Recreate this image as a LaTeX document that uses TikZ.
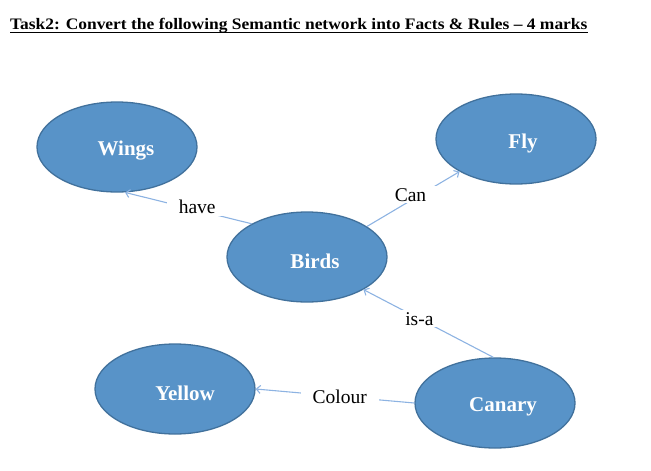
\documentclass[tikz,border=0pt]{standalone}
\usepackage{fontspec}
\setmainfont{Liberation Serif}
\usetikzlibrary{shapes.geometric,arrows.meta}
\definecolor{nodefill}{HTML}{5893C8}
\definecolor{nodeedge}{HTML}{41719C}
\definecolor{linkcol}{HTML}{8DB3E2}
\begin{document}
\begin{tikzpicture}[x=1pt,y=-1pt,
 concept/.style={ellipse, draw=nodeedge, line width=1.3pt, fill=nodefill, minimum width=160pt, minimum height=90pt, inner sep=0pt},
 ctext/.style={text=white, font=\bfseries\fontsize{21}{24}\selectfont},
 link/.style={draw=linkcol, line width=1.1pt, -{Straight Barb[length=4pt,width=8pt]}},
 rel/.style={fill=white, font=\fontsize{19.5}{22}\selectfont, inner xsep=12pt, inner ysep=2pt}]
\useasboundingbox (0,0) rectangle (651,471);
\node[anchor=base west, font=\bfseries\fontsize{16}{19}\selectfont, inner sep=0pt] (title) at (10,30)
  {\scalebox{1.09}[1]{Task2: Convert the following Semantic network into Facts \& Rules – 4 marks}};
\draw[line width=1.2pt] ([yshift=-2.5pt]title.base west) -- ([yshift=-2.5pt]title.base east);
\node[concept, label={[ctext, xshift=9pt, yshift=-4pt]center:Wings}] (wings) at (117,147) {};
\node[concept, label={[ctext, xshift=8pt, yshift=-4pt]center:Birds}] (birds) at (307,257) {};
\node[concept, label={[ctext, xshift=7pt, yshift=-4pt]center:Fly}] (fly) at (516,139) {};
\node[concept, label={[ctext, xshift=10pt, yshift=-4pt]center:Yellow}] (yellow) at (175,389) {};
\node[concept, label={[ctext, xshift=8pt, yshift=-4pt]center:Canary}] (canary) at (495,403) {};
\draw[link] (birds.149) -- node[rel, pos=0.43, yshift=3pt] {have} (wings.280);
\draw[link] (birds.27) -- node[rel, pos=0.47, yshift=6pt] {Can} (fly.210);
\draw[link] (canary.92) -- node[rel, pos=0.57] {is-a} (birds.330);
\draw[link] (canary.180) -- node[rel, pos=0.47] {Colour} (yellow.0);
\end{tikzpicture}
\end{document}
